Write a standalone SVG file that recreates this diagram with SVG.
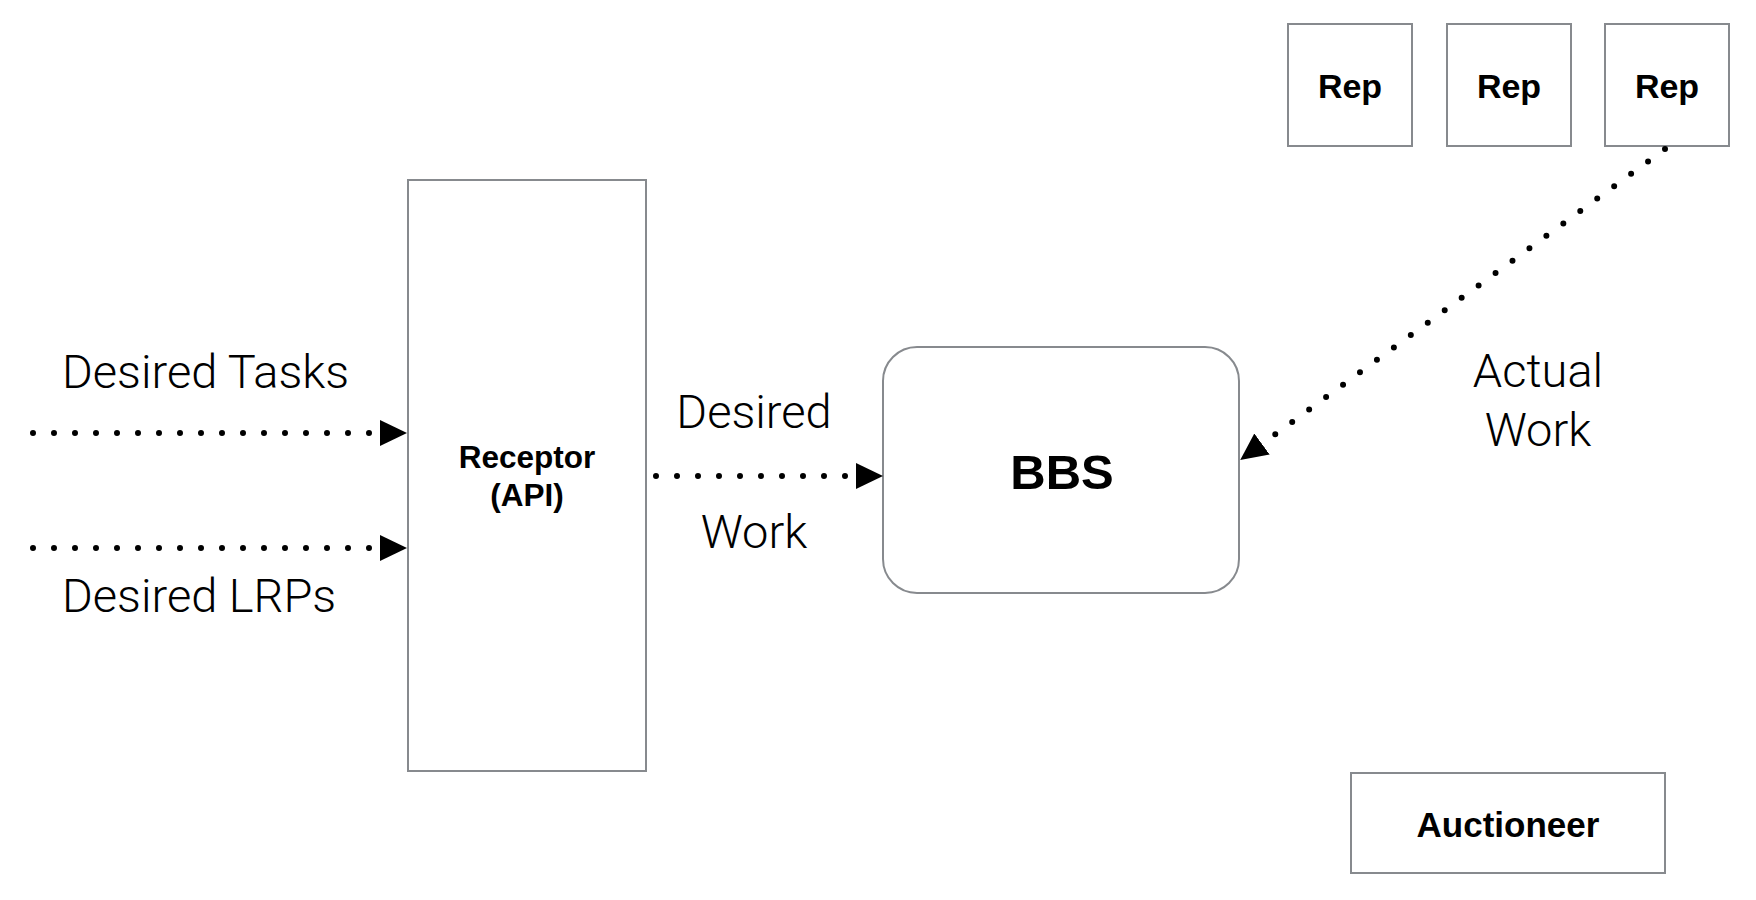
<svg xmlns="http://www.w3.org/2000/svg" width="1756" height="900" viewBox="0 0 1756 900">
<style>
.box{fill:#ffffff;stroke:#878a8e;stroke-width:2}
.bold{font-family:"Liberation Sans",Arial,sans-serif;font-weight:bold;fill:#000;text-anchor:middle}
.light{font-family:Roboto,Lato,"Open Sans","Liberation Sans",sans-serif;font-weight:300;font-size:47px;fill:#000}
.dots{fill:none;stroke:#000;stroke-width:6;stroke-linecap:round;stroke-dasharray:0 21}
</style>
<defs>
<marker id="arrow" markerUnits="userSpaceOnUse" markerWidth="27" markerHeight="27" refX="0" refY="13" orient="auto" viewBox="0 0 27 26">
<path d="M0,0 L27,13 L0,26 z" fill="#000"/>
</marker>
</defs>
<rect width="1756" height="900" fill="#ffffff"/>
<g id="rep1"><rect class="box" x="1288" y="24" width="124" height="122"/><text class="bold" x="1350" y="98" font-size="34">Rep</text></g>
<g id="rep2"><rect class="box" x="1447" y="24" width="124" height="122"/><text class="bold" x="1509" y="98" font-size="34">Rep</text></g>
<g id="rep3"><rect class="box" x="1605" y="24" width="124" height="122"/><text class="bold" x="1667" y="98" font-size="34">Rep</text></g>
<g id="receptor"><rect class="box" x="408" y="180" width="238" height="591"/><text class="bold" x="527" y="468" font-size="31.5">Receptor</text><text class="bold" x="527" y="506" font-size="31.5">(API)</text></g>
<g id="bbs"><rect class="box" x="883" y="347" width="356" height="246" rx="34" ry="34"/><text class="bold" x="1062" y="489" font-size="49">BBS</text></g>
<g id="auctioneer"><rect class="box" x="1351" y="773" width="314" height="100"/><text class="bold" x="1508" y="837" font-size="35">Auctioneer</text></g>
<g id="connectors">
<path class="dots" d="M33,433 L380,433" marker-end="url(#arrow)"/>
<path class="dots" d="M33,548 L380,548" marker-end="url(#arrow)"/>
<path class="dots" d="M656,476 L856,476" marker-end="url(#arrow)"/>
<path class="dots" d="M1665,149 L1262,444" marker-end="url(#arrow)"/>
</g>
<g id="labels">
<text class="light" x="62" y="388">Desired Tasks</text>
<text class="light" x="62" y="612">Desired LRPs</text>
<text class="light" x="754" y="428" text-anchor="middle">Desired</text>
<text class="light" x="754" y="548" text-anchor="middle">Work</text>
<text class="light" x="1538" y="387" text-anchor="middle">Actual</text>
<text class="light" x="1538" y="446" text-anchor="middle">Work</text>
</g>
</svg>
